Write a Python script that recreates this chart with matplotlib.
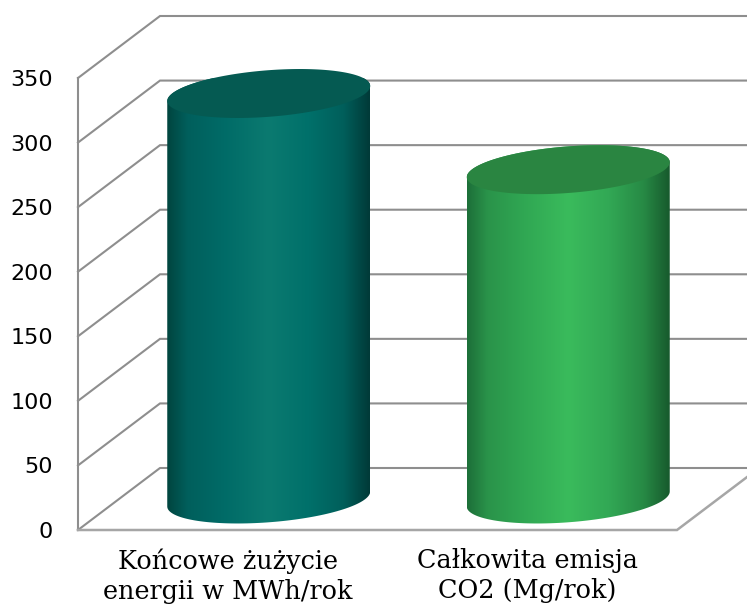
import numpy as np
import matplotlib
matplotlib.use("Agg")
import matplotlib.pyplot as plt
from matplotlib.colors import LinearSegmentedColormap
from matplotlib.patches import Polygon

categories = ["Końcowe żużycie\nenergii w MWh/rok", "Całkowita emisja\nCO2 (Mg/rok)"]
values = [314, 255]
yticks = [0, 50, 100, 150, 200, 250, 300, 350]

body_stops = [
    ["#00453f", "#005f5c", "#006b67", "#0b7a70", "#00706a", "#005f5b", "#003a38"],
    ["#1d6f39", "#2a934a", "#30a753", "#3abb5c", "#32a855", "#278a45", "#175a2d"],
]
top_colors = ["#055a52", "#2a8541"]
stop_pos = [0, 0.1, 0.28, 0.5, 0.7, 0.87, 1]

W, H = 747, 605
L, R, T, B = 78, 677, 78, 530
fig = plt.figure(figsize=(W / 100, H / 100), dpi=100, facecolor="white")
ax = fig.add_axes([L / W, 1 - B / H, (R - L) / W, (B - T) / H])
ax.set_xlim(-0.5, 1.5)
ax.set_ylim(0, 350)
ax.patch.set_visible(False)
for s in ax.spines.values():
    s.set_visible(False)

px_x = 2.0 / (R - L)      # category units per pixel
px_y = 350.0 / (B - T)    # value units per pixel
dx, dy = 82 * px_x, 62 * px_y   # depth of the 3-D box
grey = "#8e8e8e"

# walls and gridlines
for v in yticks:
    if v == 0:
        continue
    ax.plot([-0.5, -0.5 + dx, 1.5 + dx], [v, v + dy, v + dy], color=grey, lw=1.5,
            clip_on=False, solid_joinstyle="miter", zorder=1)
ax.plot([-0.5, -0.5 + dx, 1.5 + dx], [0, dy, dy], color=grey, lw=1.5, clip_on=False, zorder=1)
ax.plot([-0.5, -0.5], [0, 350], color=grey, lw=1.5, clip_on=False, zorder=1)
ax.plot([-0.5, 1.5, 1.5 + dx], [0, 0, dy], color="#a6a6a6", lw=1.8, clip_on=False, zorder=1,
        solid_joinstyle="miter")

# cylinders
half_w = 101.5 * px_x
shear = 7.5 * px_y
minor = 23.3 * px_y
t_low = np.linspace(np.pi, 2 * np.pi, 80)
t_up = np.linspace(0, np.pi, 80)
t_all = np.linspace(0, 2 * np.pi, 160)


def rim(cx, cy, t):
    return cx + half_w * np.cos(t), cy + shear * np.cos(t) + minor * np.sin(t)


for i, (val, stops, top) in enumerate(zip(values, body_stops, top_colors)):
    cx = i + dx / 2
    cy0 = dy / 2
    cy1 = cy0 + val
    xb, yb = rim(cx, cy0, t_low)
    xt, yt = rim(cx, cy1, t_up)
    poly = Polygon(np.column_stack([np.r_[xb, xt], np.r_[yb, yt]]), closed=True,
                   transform=ax.transData, fc="none", ec="none")
    ax.add_patch(poly)
    cmap = LinearSegmentedColormap.from_list("g", list(zip(stop_pos, stops)))
    im = ax.imshow(np.linspace(0, 1, 256)[None, :], cmap=cmap, aspect="auto",
                   extent=[cx - half_w, cx + half_w, cy0 - 2 * minor, cy1 + 2 * minor],
                   zorder=2, interpolation="bilinear")
    im.set_clip_path(poly)
    xe, ye = rim(cx, cy1, t_all)
    ax.fill(xe, ye, color=top, zorder=3, clip_on=False, lw=0)

ax.set_xlim(-0.5, 1.5)
ax.set_ylim(0, 350)
ax.set_xticks([0, 1])
ax.set_xticklabels(categories, family="DejaVu Serif", fontsize=18.4, linespacing=1.25)
ax.set_yticks(yticks)
ax.set_yticklabels([str(v) for v in yticks], family="DejaVu Sans", fontsize=16)
ax.tick_params(axis="both", length=0)
ax.tick_params(axis="y", pad=18)
ax.tick_params(axis="x", pad=13)

fig.savefig("out.png", dpi=100, facecolor="white")
